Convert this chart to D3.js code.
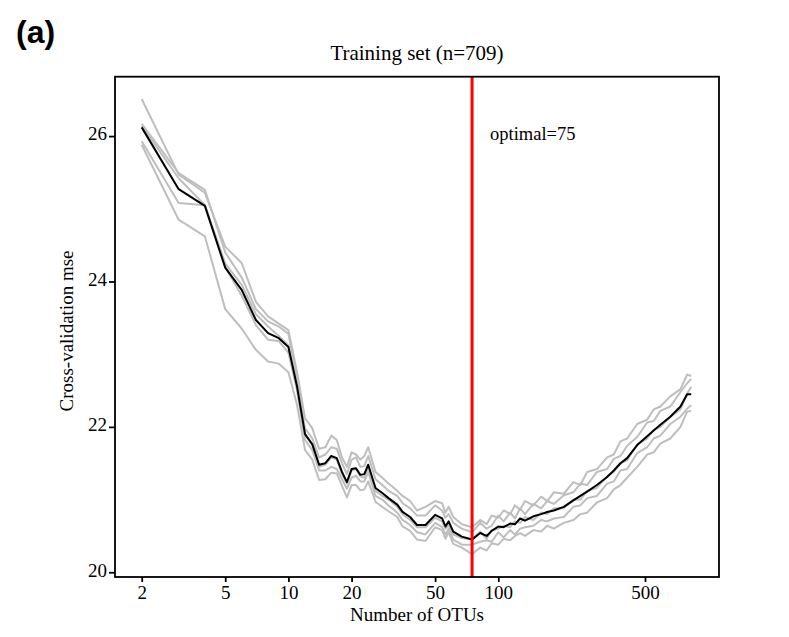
<!DOCTYPE html>
<html><head><meta charset="utf-8">
<script src="https://cdn.jsdelivr.net/npm/d3@7"></script>
<style>body{margin:0;background:#fff}svg{display:block}</style>
</head><body><svg id="c" width="789" height="637"></svg>
<script>
const nOTUs = [2,3,4,5,6,7,8,9,10,11,12,13,14,15,16,17,18,19,20,21,22,23,24,26,28,30,33,35,38,41,45,50,54,56,58,61,67,75,82,88,93,100,106,114,120,127,134,147,160,171,184,205,228,246,265,295,330,355,382,411,459,512,550,592,660,738,794,830];
const meanMse = [26.12,25.27,25.04,24.19,23.88,23.47,23.29,23.22,23.10,22.55,21.90,21.76,21.48,21.50,21.60,21.57,21.38,21.24,21.42,21.43,21.34,21.35,21.48,21.16,21.09,21.02,20.93,20.83,20.76,20.65,20.65,20.79,20.74,20.63,20.70,20.56,20.49,20.45,20.54,20.50,20.57,20.63,20.62,20.67,20.66,20.74,20.71,20.77,20.80,20.83,20.85,20.90,20.99,21.05,21.11,21.20,21.31,21.40,21.50,21.57,21.75,21.87,21.95,22.03,22.14,22.28,22.45,22.45];
const run1 = [26.51,25.47,25.22,24.48,24.25,23.72,23.52,23.42,23.33,22.75,22.12,21.98,21.70,21.72,21.88,21.82,21.58,21.45,21.65,21.62,21.55,21.60,21.72,21.38,21.30,21.22,21.12,21.05,20.98,20.85,20.90,20.98,20.95,20.82,20.90,20.76,20.66,20.62,20.72,20.66,20.78,20.75,20.85,20.80,20.92,20.86,20.98,20.92,21.04,20.98,21.10,21.08,21.24,21.20,21.38,21.42,21.58,21.62,21.80,21.84,22.04,22.10,22.24,22.28,22.42,22.52,22.72,22.70];
const run2 = [26.17,25.49,25.26,24.40,24.05,23.62,23.45,23.38,23.28,22.65,21.98,21.84,21.58,21.62,21.72,21.70,21.50,21.35,21.55,21.58,21.45,21.46,21.60,21.28,21.20,21.12,21.05,20.95,20.88,20.78,20.78,20.92,20.85,20.75,20.80,20.68,20.60,20.55,20.68,20.60,20.64,20.78,20.70,20.82,20.74,20.88,20.80,20.94,20.88,20.98,20.94,21.06,21.10,21.22,21.20,21.38,21.42,21.56,21.60,21.74,21.86,22.06,22.08,22.22,22.28,22.48,22.60,22.66];
const run3 = [26.14,25.42,25.05,24.25,23.95,23.55,23.38,23.25,23.12,22.55,21.90,21.75,21.45,21.48,21.58,21.55,21.35,21.22,21.40,21.42,21.32,21.30,21.45,21.12,21.05,21.00,20.90,20.80,20.72,20.62,20.62,20.75,20.70,20.60,20.65,20.52,20.47,20.45,20.56,20.46,20.58,20.60,20.64,20.62,20.70,20.68,20.76,20.72,20.82,20.80,20.88,20.88,21.00,21.00,21.12,21.16,21.32,21.38,21.50,21.54,21.76,21.84,21.96,22.00,22.14,22.24,22.46,22.55];
const run4 = [25.93,25.08,25.05,24.20,23.80,23.40,23.20,23.18,23.02,22.50,21.82,21.68,21.40,21.40,21.45,21.42,21.28,21.15,21.30,21.33,21.25,21.25,21.38,21.05,21.00,20.92,20.82,20.72,20.65,20.55,20.52,20.68,20.62,20.52,20.60,20.45,20.38,20.38,20.42,20.44,20.42,20.55,20.48,20.58,20.52,20.60,20.62,20.64,20.72,20.70,20.74,20.76,20.90,20.92,21.02,21.05,21.22,21.25,21.40,21.42,21.64,21.72,21.84,21.88,22.04,22.14,22.25,22.30];
const run5 = [25.88,24.85,24.62,23.62,23.35,23.06,22.90,22.87,22.75,22.30,21.68,21.55,21.27,21.28,21.37,21.36,21.19,21.03,21.20,21.20,21.13,21.14,21.25,20.97,20.90,20.84,20.76,20.63,20.57,20.45,20.43,20.62,20.58,20.46,20.55,20.39,20.34,20.25,20.34,20.30,20.40,20.38,20.46,20.44,20.50,20.54,20.50,20.58,20.56,20.64,20.60,20.68,20.72,20.80,20.82,20.96,21.02,21.14,21.20,21.30,21.45,21.62,21.65,21.77,21.84,22.00,22.21,22.22];
const xTicks = [2,5,10,20,50,100,500];
const yTicks = [20,22,24,26];
const optimal = 75;

const svg = d3.select('#c');
const L=115, R=719, T=76.7, B=577;
const x = d3.scaleLog().domain([1.492,1126]).range([L,R]);
const y = d3.scaleLinear().domain([19.935,26.817]).range([B,T]);
const serif = '"Liberation Serif","Times New Roman",serif';

const line = d3.line().x((d,i)=>x(nOTUs[i])).y(d=>y(d));
const g = svg.append('g');
[run1,run2,run3,run4,run5].forEach(r=>{
  g.append('path').attr('d',line(r)).attr('fill','none').attr('stroke','#bebebe').attr('stroke-width',2).attr('stroke-linejoin','round');
});
g.append('path').attr('d',line(meanMse)).attr('fill','none').attr('stroke','#000').attr('stroke-width',2).attr('stroke-linejoin','round');

svg.append('line').attr('x1',x(optimal)).attr('x2',x(optimal)).attr('y1',T).attr('y2',B)
  .attr('stroke','#ff0000').attr('stroke-width',3);

svg.append('rect').attr('x',L).attr('y',T).attr('width',R-L).attr('height',B-T)
  .attr('fill','none').attr('stroke','#000').attr('stroke-width',1.8);

const xa = svg.append('g').attr('transform',`translate(0,${B})`)
  .call(d3.axisBottom(x).tickValues(xTicks).tickFormat(d3.format('d')).tickSize(5).tickPadding(4));
const ya = svg.append('g').attr('transform',`translate(${L},0)`)
  .call(d3.axisLeft(y).tickValues(yTicks).tickFormat(d3.format('d')).tickSize(6).tickPadding(2));
[xa,ya].forEach(a=>{
  a.select('.domain').remove();
  a.selectAll('.tick line').attr('stroke','#000').attr('stroke-width',1.8);
  a.selectAll('.tick text').attr('font-family',serif).attr('font-size',19).attr('fill','#000');
});
ya.selectAll('.tick text').attr('dy','0.2em');

svg.append('text').attr('x',(L+R)/2).attr('y',60).attr('text-anchor','middle').attr('fill','#000')
  .attr('font-family',serif).attr('font-size',21).text('Training set (n=709)');
svg.append('text').attr('x',(L+R)/2).attr('y',621).attr('text-anchor','middle').attr('fill','#000')
  .attr('font-family',serif).attr('font-size',19).text('Number of OTUs');
svg.append('text').attr('transform',`translate(73,331) rotate(-90)`).attr('text-anchor','middle').attr('fill','#000')
  .attr('font-family',serif).attr('font-size',19).text('Cross-validation mse');
svg.append('text').attr('x',490).attr('y',140).attr('fill','#000')
  .attr('font-family',serif).attr('font-size',18.5).text('optimal=75');
svg.append('text').attr('x',16).attr('y',43).attr('fill','#000')
  .attr('font-family','"Liberation Sans",Arial,sans-serif').attr('font-weight','bold').attr('font-size',32).text('(a)');
</script></body></html>
